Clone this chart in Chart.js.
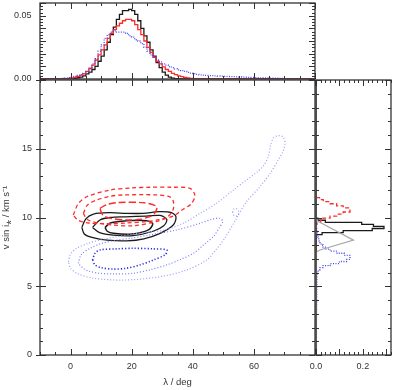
<!DOCTYPE html>
<html>
<head>
<meta charset="utf-8">
<script src="https://cdn.jsdelivr.net/npm/chart.js@4/dist/chart.umd.min.js"></script>
<style>
html, body { margin: 0; padding: 0; background: #fff; }
#wrap { position: relative; width: 399px; height: 390px; }
canvas { position: absolute; left: 0; top: 0; }
</style>
</head>
<body>
<div id="wrap">
  <canvas id="main" width="399" height="390"></canvas>
  <canvas id="top" width="399" height="390"></canvas>
  <canvas id="side" width="399" height="390"></canvas>
</div>
<script>
// tick labels
const lamTicks = [0, 20, 40, 60]
const vTicks = [0, 5, 10, 15]
const topTicks = [0, 0.05]
const sideTicks = [0, 0.2]

// top panel: lambda histograms, 1 deg bins starting at -4 (zero afterwards)
const lamBinStart = -4, lamBinWidth = 1
const topBlack = [0, 0, 0, 0, 0.0003, 0.0006, 0.001, 0.0015, 0.0025, 0.004,
  0.0055, 0.0075, 0.010, 0.014, 0.018, 0.023, 0.029, 0.035, 0.041, 0.047,
  0.051, 0.054, 0.054, 0.055, 0.054, 0.051, 0.046, 0.040, 0.034, 0.029,
  0.023, 0.018, 0.013, 0.009, 0.0055, 0.003, 0.0015, 0.0007, 0.0003, 0.0001]
const topRed = [0, 0, 0.0002, 0.0004, 0.0008, 0.0013, 0.002, 0.003, 0.004, 0.006,
  0.0085, 0.011, 0.015, 0.019, 0.023, 0.027, 0.032, 0.036, 0.039, 0.042,
  0.044, 0.046, 0.047, 0.047, 0.046, 0.043, 0.039, 0.035, 0.030, 0.025,
  0.021, 0.017, 0.014, 0.012, 0.0095, 0.0075, 0.006, 0.0045, 0.0035, 0.0025,
  0.0018, 0.0012, 0.0008, 0.0004, 0.0002, 0.0001]
const topBlue = [0.0002, 0.0004, 0.0007, 0.001, 0.0015, 0.002, 0.0028, 0.0035, 0.0045, 0.0058,
  0.008, 0.012, 0.016, 0.022, 0.027, 0.032, 0.035, 0.037, 0.038, 0.037,
  0.037, 0.037, 0.036, 0.034, 0.033, 0.031, 0.030, 0.028, 0.025, 0.022,
  0.019, 0.017, 0.015, 0.0135, 0.012, 0.011, 0.0098, 0.009, 0.008, 0.0072,
  0.0066, 0.006, 0.0052, 0.0047, 0.0042, 0.0036, 0.0033, 0.003, 0.0028, 0.0027,
  0.0026, 0.0024, 0.0023, 0.0022, 0.0021, 0.002, 0.0019, 0.0018, 0.0017, 0.0016,
  0.0015, 0.0014, 0.0013, 0.0012, 0.0011, 0.001, 0.0009, 0.0008, 0.0008, 0.0007,
  0.0006, 0.0006, 0.0005, 0.0004, 0.0003, 0.0003, 0.0002, 0.0001]

// side panel: v sin i histograms, 0.15 km/s bins starting at 5.9
const vBinStart = 5.9, vBinWidth = 0.15
const sideBlack = [0, 0, 0, 0, 0, 0, 0, 0, 0, 0, 0, 0, 0, 0, 0, 0, 0, 0,
  0.004, 0.026, 0.116, 0.24, 0.29, 0.245, 0.195, 0.04, 0.008, 0.002]
const sideRed = [0, 0, 0, 0, 0, 0, 0, 0, 0, 0, 0, 0, 0, 0, 0, 0, 0, 0, 0, 0, 0, 0, 0, 0,
  0.004, 0.02, 0.03, 0.06, 0.088, 0.116, 0.145, 0.145, 0.116, 0.088, 0.06, 0.031,
  0.015, 0.004, 0.001, 0]
const sideBlue = [0.004, 0.01, 0.017, 0.03, 0.06, 0.1, 0.13, 0.145, 0.145, 0.12,
  0.09, 0.06, 0.04, 0.03, 0.022, 0.017, 0.012, 0.008, 0.005, 0.004,
  0.003, 0.003, 0.002, 0.002, 0.002, 0.001, 0.001, 0.001, 0.0005]
// [v, density]
const sideGray = [[0, 0], [7.5, 0.002], [7.64, 0.017], [8.35, 0.16], [9.7, 0.01], [9.9, 0.002], [20, 0]]

// contours [lambda, v]
const blackOuter = [[3.7, 9.28], [5, 9.9], [7.5, 10.25], [12.9, 10.35], [18.4, 10.3], [23.8, 10.3],
  [29, 10.42], [33, 10.35], [34.5, 10.05], [33.6, 9.45], [29.3, 8.85], [24, 8.45], [18.4, 8.3],
  [12, 8.35], [7, 8.55], [4.5, 8.8]]
const blackMid = [[7.2, 9.28], [9.6, 9.82], [13, 10.0], [18, 10.05], [24.9, 10.1], [29.3, 10.15],
  [31.5, 9.85], [30.5, 9.4], [27, 9.0], [20.5, 8.68], [14, 8.72], [9.5, 8.9]]
const blackInner = [[11.3, 9.28], [13, 9.6], [18.4, 9.77], [24.9, 9.77], [26.9, 9.55], [25.5, 9.1],
  [20, 8.8], [14, 8.85], [12, 9.0]]
const redOuter = [[0.9, 10.18], [2.5, 11.0], [5.3, 11.51], [12.9, 12.0], [20, 12.15], [26, 12.2],
  [33, 12.2], [39.1, 12.12], [40.7, 11.6], [39.5, 11.0], [36.5, 10.55], [33.6, 10.1], [29, 9.85],
  [24.9, 9.7], [18, 9.6], [12, 9.55], [6, 9.6], [2.5, 9.8]]
const redMid = [[4.2, 10.3], [5.5, 10.9], [8.5, 11.27], [13, 11.55], [17.3, 11.64], [28.2, 11.64],
  [32.5, 11.5], [33.6, 11.2], [33.6, 10.6], [31.5, 10.0], [28, 9.7], [20.5, 9.4], [14, 9.45],
  [9.6, 9.58], [5.5, 9.85]]
const redInner = [[9.6, 10.67], [12, 10.95], [15.1, 11.08], [23.8, 11.08], [28.2, 10.79], [27.5, 10.3],
  [26, 10.06], [22, 9.85], [18.4, 9.82], [13, 9.95], [10.5, 10.2]]
const blueOuter = [[-0.7, 6.79], [0, 7.35], [2, 7.76], [5.5, 8.1], [9.6, 8.36], [15, 8.6], [20.5, 8.8],
  [26, 8.95], [31, 9.1], [36.9, 9.58], [42.4, 10.3], [47.8, 11.03], [53.3, 12.0], [57.6, 12.73],
  [61, 13.3], [63.1, 13.75], [64.7, 14.42], [65.5, 15.3], [66.5, 15.8], [68, 15.95], [69.6, 15.85],
  [70.2, 15.4], [69.5, 14.8], [68, 14.2], [65.3, 13.2], [62, 12.24], [57.6, 11.15], [54, 9.82],
  [50.5, 8.5], [47, 7.5], [44.6, 6.91], [38, 6.18], [29.3, 5.69], [17.3, 5.45], [7.5, 5.58],
  [2.5, 5.9], [0, 6.3]]
const blueMid = [[2.5, 6.67], [3.5, 7.3], [6.4, 7.76], [10, 8.1], [15.1, 8.36], [20, 8.5], [26, 8.73],
  [34.7, 9.09], [42.4, 9.58], [46, 9.85], [48.9, 9.94], [49.8, 9.7], [48.5, 9.2], [46.7, 8.6],
  [43.5, 8.0], [40.2, 7.39], [36, 6.95], [31.5, 6.55], [26, 6.2], [20.5, 5.94], [14, 5.9],
  [9.6, 5.94], [6, 6.1], [4.2, 6.3]]
const blueInner = [[7.2, 6.91], [8, 7.4], [9.6, 7.64], [15, 7.72], [20.5, 7.76], [27, 7.72], [31.5, 7.64],
  [31, 7.3], [27, 6.9], [22.7, 6.55], [18, 6.3], [14, 6.25], [10, 6.35], [8, 6.55]]
const blueIsland = [[53, 10.38], [53.4, 10.6], [54.2, 10.66], [55, 10.45], [54.8, 10.15], [54, 10.1], [53.3, 10.2]]

const FONT = { family: "'Liberation Sans', Arial, sans-serif", size: 9 }
const INK = '#333'
const BLACK = '#1a1a1a', RED = '#ff2a2a', GRAY = '#a8a8a8'

function hist(start, width, vals, flip) {
    const pts = []
    vals.forEach((d, i) => {
        const lo = start + i * width, hi = lo + width
        pts.push(flip ? { x: d, y: lo } : { x: lo, y: d })
        pts.push(flip ? { x: d, y: hi } : { x: hi, y: d })
    })
    return pts
}
const loop = pts => pts.concat([pts[0]]).map(([x, y]) => ({ x, y }))
const line = (data, color, width, dash, tension) => ({
    data, borderColor: color, borderWidth: width, borderDash: dash || [],
    pointRadius: 0, showLine: true, fill: false, tension: tension || 0
})

// frame + inward ticks
const frame = {
    id: 'frame',
    afterDatasetsDraw(chart, args, o) {
        const { ctx, chartArea: a } = chart
        const sx = chart.scales.x, sy = chart.scales.y
        const marks = (min, max, step, major) => {
            const out = []
            for (let k = Math.ceil(min / step - 1e-9); k * step <= max + 1e-9; k++) {
                const v = k * step
                out.push([v, Math.abs(v / major - Math.round(v / major)) < 1e-6])
            }
            return out
        }
        ctx.save()
        ctx.strokeStyle = INK
        ctx.lineWidth = 1
        ctx.beginPath()
        marks(sx.min, sx.max, o.x[0], o.x[1]).forEach(([v, big]) => {
            const px = Math.round(sx.getPixelForValue(v)) + 0.5
            const len = big ? 6 : 3
            ctx.moveTo(px, a.bottom); ctx.lineTo(px, a.bottom - len)
            ctx.moveTo(px, a.top); ctx.lineTo(px, a.top + len)
        })
        marks(sy.min, sy.max, o.y[0], o.y[1]).forEach(([v, big]) => {
            const py = Math.round(sy.getPixelForValue(v)) + 0.5
            const len = big ? 6 : 3
            ctx.moveTo(a.left - (big && o.out ? 4 : 0), py); ctx.lineTo(a.left + len, py)
            ctx.moveTo(a.right, py); ctx.lineTo(a.right - len, py)
        })
        ctx.stroke()
        ctx.lineWidth = 1.3
        ctx.strokeRect(a.left, a.top, a.right - a.left, a.bottom - a.top)
        ctx.restore()
    }
}

const fixedTicks = vals => s => { s.ticks = vals.map(v => ({ value: v })) }
const noPad = s => { s.paddingTop = 0; s.paddingBottom = 0; s.paddingLeft = 0; s.paddingRight = 0 }
const base = {
    responsive: false,
    animation: false,
    plugins: { legend: { display: false }, tooltip: { enabled: false } }
}

new Chart(document.getElementById('main'), {
    type: 'scatter',
    data: {
        datasets: [
            line(loop(blueOuter), '#9b9bff', 1.2, [1, 2], 0.3),
            line(loop(blueIsland), '#9b9bff', 1.2, [1, 2], 0.3),
            line(loop(blueMid), '#7a7af5', 1.2, [1, 2], 0.3),
            line(loop(blueInner), '#2828e6', 1.6, [1.2, 2], 0.3),
            line(loop(redOuter), RED, 1.3, [4, 3], 0.3),
            line(loop(redMid), RED, 1.3, [4, 3], 0.3),
            line(loop(redInner), RED, 1.4, [7, 3], 0.3),
            line(loop(blackOuter), BLACK, 1.3, [], 0.3),
            line(loop(blackMid), BLACK, 1.3, [], 0.3),
            line(loop(blackInner), BLACK, 1.5, [], 0.3)
        ]
    },
    options: {
        ...base,
        layout: { padding: { top: 80, right: 84, left: 0, bottom: 0 } },
        scales: {
            x: {
                type: 'linear', min: -10, max: 80,
                afterBuildTicks: fixedTicks(lamTicks),
                afterFit: s => { s.height = 35; noPad(s) },
                grid: { display: false, drawTicks: false, tickLength: 0 },
                border: { display: false },
                ticks: { padding: 6, color: INK, font: FONT, maxRotation: 0, autoSkip: false },
                title: { display: true, text: 'λ / deg', color: INK, font: { ...FONT, size: 9.5 }, padding: { top: 0, bottom: 2 } }
            },
            y: {
                type: 'linear', min: 0, max: 20,
                afterBuildTicks: fixedTicks(vTicks),
                afterFit: s => { s.width = 40; noPad(s) },
                grid: { display: false, drawTicks: false, tickLength: 0 },
                border: { display: false },
                ticks: { padding: 8, color: INK, font: FONT, autoSkip: false },
                title: { display: true, text: 'v sin i⁎ / km s⁻¹', color: INK, font: { ...FONT, size: 9.5 }, padding: { top: 1, bottom: 0 } }
            }
        },
        plugins: { ...base.plugins, frame: { x: [5, 20], y: [1, 5], out: true } }
    },
    plugins: [frame]
})

const topEdges = pts => [{ x: -10, y: 0 }].concat(pts, [{ x: 80, y: 0 }])
new Chart(document.getElementById('top'), {
    type: 'scatter',
    data: {
        datasets: [
            line(topEdges(hist(lamBinStart, lamBinWidth, topBlue)), '#4848f0', 1.3, [1, 1.5]),
            line(topEdges(hist(lamBinStart, lamBinWidth, topRed)), RED, 1.3),
            line(topEdges(hist(lamBinStart, lamBinWidth, topBlack)), BLACK, 1.3)
        ]
    },
    options: {
        ...base,
        layout: { padding: { top: 3, right: 84, left: 0, bottom: 311 } },
        scales: {
            x: { type: 'linear', min: -10, max: 80, display: false },
            y: {
                type: 'linear', min: 0, max: 0.06,
                afterBuildTicks: fixedTicks(topTicks),
                afterFit: s => { s.width = 40; noPad(s) },
                grid: { display: false, drawTicks: false, tickLength: 0 },
                border: { display: false },
                ticks: { padding: 8.5, color: INK, font: FONT, autoSkip: false, callback: v => v.toFixed(2) }
            }
        },
        plugins: { ...base.plugins, frame: { x: [5, 20], y: [0.0025, 0.01] } }
    },
    plugins: [frame]
})

const sideEdges = pts => [{ x: 0, y: 0 }].concat(pts, [{ x: 0, y: 20 }])
new Chart(document.getElementById('side'), {
    type: 'scatter',
    data: {
        datasets: [
            line(sideGray.map(([v, d]) => ({ x: d, y: v })), GRAY, 1.2),
            line(sideEdges(hist(vBinStart, vBinWidth, sideBlue, true)), '#4848f0', 1.3, [1, 1.5]),
            line(sideEdges(hist(vBinStart, vBinWidth, sideRed, true)), RED, 1.3, [4, 2.5]),
            line(sideEdges(hist(vBinStart, vBinWidth, sideBlack, true)), BLACK, 1.3)
        ]
    },
    options: {
        ...base,
        layout: { padding: { top: 80, right: 8, left: 316, bottom: 0 } },
        scales: {
            x: {
                type: 'linear', min: 0, max: 0.32,
                afterBuildTicks: fixedTicks(sideTicks),
                afterFit: s => { s.height = 35; noPad(s) },
                grid: { display: false, drawTicks: false, tickLength: 0 },
                border: { display: false },
                ticks: { padding: 6, color: INK, font: FONT, maxRotation: 0, autoSkip: false, callback: v => v.toFixed(1) }
            },
            y: { type: 'linear', min: 0, max: 20, display: false }
        },
        plugins: { ...base.plugins, frame: { x: [0.02, 0.1], y: [1, 5] } }
    },
    plugins: [frame]
})
</script>
</body>
</html>
